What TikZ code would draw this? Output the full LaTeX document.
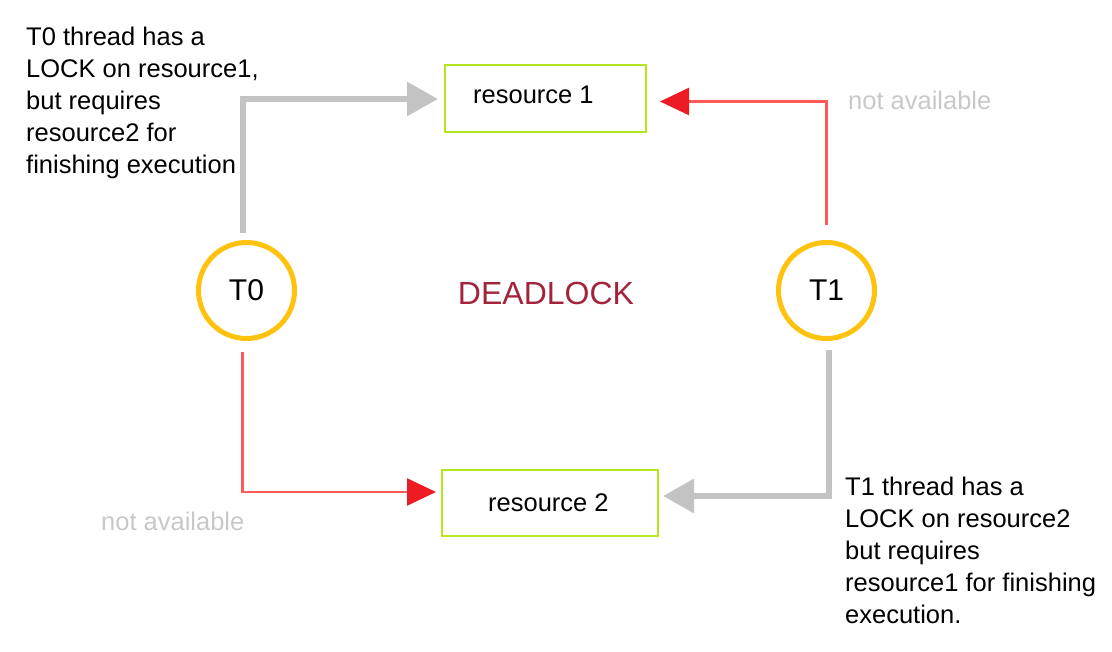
\documentclass[tikz,border=0pt]{standalone}
\usepackage{fontspec}
\setmainfont{Liberation Sans}
\usetikzlibrary{arrows.meta}
\definecolor{ringc}{RGB}{255,194,14}
\definecolor{boxc}{RGB}{181,230,29}
\definecolor{grayc}{RGB}{195,195,195}
\definecolor{redl}{RGB}{255,90,90}
\definecolor{redh}{RGB}{237,28,36}
\definecolor{deadc}{RGB}{163,35,58}
\definecolor{notav}{RGB}{200,200,200}
\tikzset{
  ring/.style={circle, draw=ringc, line width=5pt, minimum size=96pt, inner sep=0pt, font=\fontsize{30}{34}\selectfont},
  resbox/.style={rectangle, draw=boxc, line width=2pt, inner sep=0pt},
  lbl/.style={inner sep=0pt, font=\fontsize{25.5}{32}\selectfont},
  note/.style={inner sep=0pt, align=left, font=\fontsize{25.5}{32}\selectfont},
  grayarrow/.style={draw=grayc, line width=6pt, -{Triangle[length=31pt,width=33pt,color=grayc]}},
  redarrow/.style={draw=redl, line width=2.5pt, -{Triangle[length=29pt,width=27pt,color=redh]}},
}
\begin{document}
\begin{tikzpicture}[x=1pt,y=-1pt]
\useasboundingbox (0,0) rectangle (1112,652);
% resources
\node[resbox, minimum width=201pt, minimum height=67pt] (r1) at (545.5,98.5) {};
\node[resbox, minimum width=216pt, minimum height=66pt] (r2) at (550,503) {};
\node[lbl, anchor=base west] (r1t) at (473,103.3) {resource 1};
\node[lbl, anchor=base west] (r2t) at (488,511.7) {resource 2};
% threads
\node[ring] (T0) at (246.5,290.5) {T0};
\node[ring] (T1) at (826.5,290.5) {T1};
% center label
\node[inner sep=0pt, text=deadc, font=\fontsize{32}{36}\selectfont] (dl) at (546,293) {DEADLOCK};
% notes
\node[note, anchor=north west] (n0) at (26,26.5) {T0 thread has a\\LOCK on resource1,\\but requires\\resource2 for\\finishing execution};
\node[note, anchor=north west] (n1) at (845,476.5) {T1 thread has a\\LOCK on resource2\\but requires\\resource1 for finishing\\execution.};
\node[lbl, text=notav, anchor=base west] (na1) at (848,110) {not available};
\node[lbl, text=notav, anchor=base west] (na2) at (101,530) {not available};
% connectors
\draw[grayarrow, shorten <=7pt, shorten >=6pt] ([xshift=-4pt]T0.north) |- ([yshift=-0.5pt]r1.west);
\draw[redarrow, shorten <=15pt, shorten >=13pt] (T1.north) |- ([yshift=-3pt]r1.east);
\draw[redarrow, shorten <=11pt, shorten >=5pt] ([xshift=-4pt]T0.south) |- ([yshift=11pt]r2.west);
\draw[grayarrow, shorten <=9pt, shorten >=4pt] ([xshift=2pt]T1.south) |- ([yshift=7pt]r2.east);
\end{tikzpicture}
\end{document}
